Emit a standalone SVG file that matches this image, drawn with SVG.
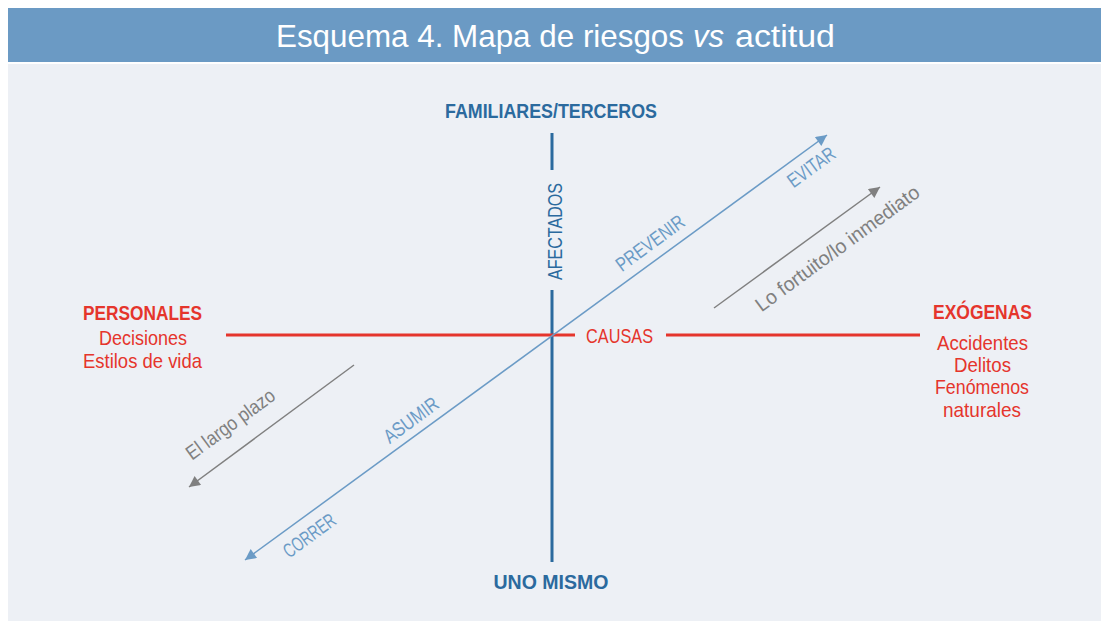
<svg xmlns="http://www.w3.org/2000/svg" width="1101" height="623" viewBox="0 0 1101 623">
<defs>
<style>
text{font-family:"Liberation Sans","DejaVu Sans",sans-serif;}
.title{fill:#ffffff;font-size:31.5px;}
.axis{fill:#2b6a9e;font-size:21px;font-weight:bold;}
.axisr{fill:#2b6a9e;font-size:21px;}
.redb{fill:#e5352c;font-size:21px;font-weight:bold;}
.red{fill:#e5352c;font-size:21px;}
.diag{fill:#6b9bc6;font-size:20px;}
.gray{fill:#808080;font-size:20px;}
.vline{stroke:#2b6a9e;stroke-width:3;fill:none;}
.hline{stroke:#e5352c;stroke-width:3;fill:none;}
.bline{stroke:#6b9bc6;stroke-width:1.5;fill:none;}
.gline{stroke:#808080;stroke-width:1.5;fill:none;}
</style>
<marker id="ab" viewBox="0 0 10 10" refX="10" refY="5" markerWidth="18" markerHeight="11" markerUnits="userSpaceOnUse" orient="auto-start-reverse">
<path d="M0,0 L10,5 L0,10 z" fill="#6b9bc6"/>
</marker>
<marker id="ag" viewBox="0 0 10 10" refX="10" refY="5" markerWidth="17" markerHeight="11" markerUnits="userSpaceOnUse" orient="auto-start-reverse">
<path d="M0,0 L10,5 L0,10 z" fill="#808080"/>
</marker>
</defs>
<rect x="0" y="0" width="1101" height="623" fill="#ffffff"/>
<rect x="8" y="64" width="1093" height="557" fill="#edf0f5"/>
<g id="header">
<rect x="8" y="8" width="1093" height="54" fill="#6b9ac4"/>
<text class="title" x="276" y="47" textLength="408" lengthAdjust="spacingAndGlyphs">Esquema 4. Mapa de riesgos</text>
<text class="title" x="693" y="47" font-style="italic" textLength="31" lengthAdjust="spacingAndGlyphs">vs</text>
<text class="title" x="735" y="47" textLength="100" lengthAdjust="spacingAndGlyphs">actitud</text>
</g>
<g id="connectors">
<line class="vline" x1="552" y1="133" x2="552" y2="170"/>
<line class="vline" x1="552" y1="290" x2="552" y2="562"/>
<line class="hline" x1="226" y1="335" x2="575" y2="335"/>
<line class="hline" x1="666" y1="335" x2="920" y2="335"/>
<line class="bline" x1="245" y1="560" x2="827" y2="135" marker-start="url(#ab)" marker-end="url(#ab)"/>
<line class="gline" x1="714" y1="308" x2="880" y2="187" marker-end="url(#ag)"/>
<line class="gline" x1="354" y1="365" x2="189" y2="487" marker-end="url(#ag)"/>
</g>
<g id="familiares">
<text class="axis" x="551" y="118" text-anchor="middle" textLength="212" lengthAdjust="spacingAndGlyphs">FAMILIARES/TERCEROS</text>
</g>
<g id="afectados">
<text class="axisr" transform="translate(561.5,231.5) rotate(-90)" x="0" y="0" text-anchor="middle" textLength="97" lengthAdjust="spacingAndGlyphs">AFECTADOS</text>
</g>
<g id="uno-mismo">
<text class="axis" x="551" y="589" text-anchor="middle" textLength="115" lengthAdjust="spacingAndGlyphs">UNO MISMO</text>
</g>
<g id="personales">
<text class="redb" x="142.5" y="320" text-anchor="middle" textLength="119" lengthAdjust="spacingAndGlyphs">PERSONALES</text>
<text class="red" x="143" y="345" text-anchor="middle" textLength="88" lengthAdjust="spacingAndGlyphs">Decisiones</text>
<text class="red" x="142.5" y="368" text-anchor="middle" textLength="119" lengthAdjust="spacingAndGlyphs">Estilos de vida</text>
</g>
<g id="causas">
<text class="red" x="619.5" y="343" text-anchor="middle" textLength="67" lengthAdjust="spacingAndGlyphs">CAUSAS</text>
</g>
<g id="exogenas">
<text class="redb" x="982.5" y="319" text-anchor="middle" textLength="99" lengthAdjust="spacingAndGlyphs">EXÓGENAS</text>
<text class="red" x="982.5" y="350" text-anchor="middle" textLength="91" lengthAdjust="spacingAndGlyphs">Accidentes</text>
<text class="red" x="982.5" y="372" text-anchor="middle" textLength="57" lengthAdjust="spacingAndGlyphs">Delitos</text>
<text class="red" x="982" y="394" text-anchor="middle" textLength="94" lengthAdjust="spacingAndGlyphs">Fenómenos</text>
<text class="red" x="982" y="417" text-anchor="middle" textLength="78" lengthAdjust="spacingAndGlyphs">naturales</text>
</g>
<g id="diagonal-labels" transform="translate(552,337) rotate(-36.23)">
<text class="diag" x="134.7" y="-11" text-anchor="middle" textLength="80" lengthAdjust="spacingAndGlyphs">PREVENIR</text>
<text class="diag" x="309.5" y="23" text-anchor="middle" textLength="54" lengthAdjust="spacingAndGlyphs">EVITAR</text>
<text class="diag" x="-162.8" y="-9.5" text-anchor="middle" textLength="63" lengthAdjust="spacingAndGlyphs">ASUMIR</text>
<text class="diag" x="-313" y="23.5" text-anchor="middle" textLength="60" lengthAdjust="spacingAndGlyphs">CORRER</text>
<text class="gray" x="282.6" y="104" text-anchor="middle" textLength="198" lengthAdjust="spacingAndGlyphs">Lo fortuito/lo inmediato</text>
<text class="gray" x="-311" y="-113" text-anchor="middle" textLength="105" lengthAdjust="spacingAndGlyphs">El largo plazo</text>
</g>
</svg>
